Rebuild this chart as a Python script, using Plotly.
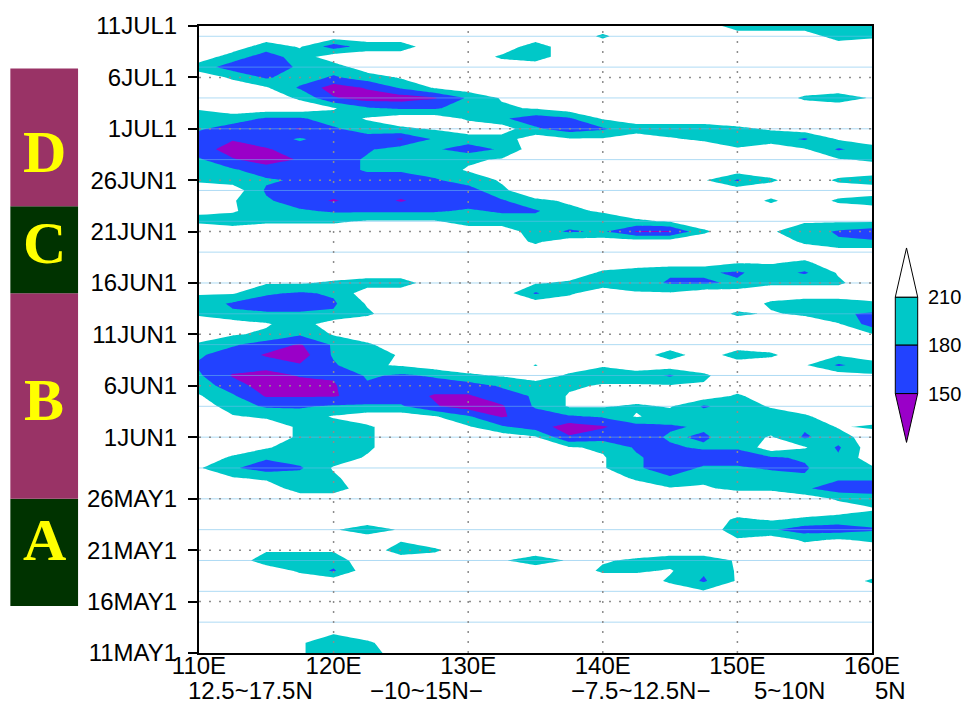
import plotly.graph_objects as go
import pandas as pd

# ---------------- data ----------------
lon = [110.0, 112.5, 115.0, 117.5, 120.0, 122.5, 125.0, 127.5, 130.0, 132.5,
       135.0, 137.5, 140.0, 142.5, 145.0, 147.5, 150.0, 152.5, 155.0, 157.5, 160.0]

first_day = "2001-05-11"
last_day = "2001-07-11"

# OLR class per grid point (one string per day, 11MAY -> 11JUL, 110E -> 160E)
# '0' clear (>210) ... '3' deep convection (<150)
olr_value = {'0': 228, 'w': 213, 'e': 208.5, 'a': 205, '1': 195, 'c': 184,
             'b': 176, '2': 165, 'q': 153, 'p': 147, '3': 135}

olr_rows = [
    "000w1100000" "0000000000",  # 11 May
    "000w1a00000" "0000000000",
    "0000w000000" "0000000000",
    "00000000000" "0000000000",
    "00000000000" "0000000000",
    "00000000000" "0000000000",  # 16 May
    "00000000000" "0000w00000",
    "00000000000" "000abw000a",
    "000ab000000" "0aawcw0000",
    "001110000w1" "wwa11w0000",
    "00www01a000" "0000000000",  # 21 May
    "000000w0000" "00000w0awa",
    "0000w1w0000" "000001c22b",
    "00000000000" "00000awa11",
    "00000000000" "000000000w",
    "00000000000" "00000000a1",  # 26 May
    "00011000000" "000wwaac22",
    "0wa1a000000" "00aca11ccc",
    "wc2bw000000" "0wc2ccbbaa",
    "0ac11w00000" "0wc222bcc0",
    "00w11a00000" "wabbcc0wb0",
    "000a1a0000w" "q22cb1wb10",  # 1 Jun
    "000a1a00wc2" "3p2bc11cwa",
    "0wa1w00wcp2" "bcw1111a00",
    "01bbcccq3pc" "wwawb1w000",
    "wcppp22pp2c" "w0000a0000",
    "1233pb222c1" "awwww00000",  # 6 Jun
    "cp3qqcbcaw0" "a11ba0000w",
    "b22qbaw000e" "0w00000wb1",
    "c2p3c1w0000" "000101a0w0",
    "ac2pca00000" "0000000000",
    "0wacw000000" "000000000w",  # 11 Jun
    "00w10000000" "00000000w2",
    "acccca00000" "00000awacb",
    "1b22bw00000" "000000a11a",
    "wwcbc00000b" "a0ww000000",
    "00wwa11000w" "a11bbcaaa0",  # 16 Jun
    "00000000000" "0a1ccb1bw0",
    "00000000000" "00000wwa00",
    "00000000000" "0000000000",
    "0000000000a" "0000000acc",
    "00000000001" "bcppa0w1b2",  # 21 Jun
    "a1aaawww111" "11aw000www",
    "ww1cbbbbcbb" "aw00000000",
    "0wc2p2p22ba" "w00000a0a1",
    "00b222222a0" "0000000000",
    "a1cb222b1w0" "0000wba0a1",  # 26 Jun
    "1c222cc1w00" "0000000000",
    "cq3q2c11aw0" "00000000wa",
    "23p22b1c2c0" "00000w0wb1",
    "2q2c22pc110" "ww0wa11bw0",
    "c22pb1aw00c" "2b111aw000",  # 1 Jul
    "11bb1w00ac2" "bw00000000",
    "w000wcbb1aw" "0000000000",
    "000aq33pcw0" "0000000a1w",
    "00wb3qcw000" "0000000000",
    "0ab1b1w0000" "0000000000",  # 6 Jul
    "122c1000000" "0000000000",
    "012100000a1" "0000000000",
    "001w2110001" "0000000000",
    "00000000000" "0a0000001a",
    "00000000000" "0000011111",  # 11 Jul
]

y_tick_dates = ["2001-05-11", "2001-05-16", "2001-05-21", "2001-05-26", "2001-06-01",
                "2001-06-06", "2001-06-11", "2001-06-16", "2001-06-21", "2001-06-26",
                "2001-07-01", "2001-07-06", "2001-07-11"]
y_tick_text = ["11MAY1", "16MAY1", "21MAY1", "26MAY1", "1JUN1", "6JUN1", "11JUN1",
               "16JUN1", "21JUN1", "26JUN1", "1JUL1", "6JUL1", "11JUL1"]

x_tick_vals = [110, 120, 130, 140, 150, 160]
x_tick_text = ["110E", "120E", "130E", "140E", "150E", "160E"]

lat_band_text = ["12.5~17.5N", "\u221210~15N\u2212", "\u22127.5~12.5N\u2212", "5~10N", "5N"]

seam_dates = ["2001-05-14", "2001-05-17", "2001-05-20", "2001-05-23", "2001-05-26",
              "2001-05-29", "2001-06-01", "2001-06-04", "2001-06-07", "2001-06-10",
              "2001-06-13", "2001-06-16", "2001-06-19", "2001-06-22", "2001-06-25",
              "2001-06-28", "2001-07-01", "2001-07-04", "2001-07-07", "2001-07-10"]

phase_names = ["A", "B", "C", "D"]
phase_start = ["2001-05-15 14:00", "2001-05-26 00:00", "2001-06-15 00:00", "2001-06-23 11:00"]
phase_end = ["2001-05-26 00:00", "2001-06-15 00:00", "2001-06-23 11:00", "2001-07-06 21:00"]
phase_letter_at = ["2001-05-22 00:00", "2001-06-04 14:00", "2001-06-19 21:00", "2001-06-28 17:00"]
phase_colors = ["#003300", "#993366", "#003300", "#993366"]

level_edges = [150, 180, 210]
level_colors = ["#9a00c8", "#2242ff", "#00c8c8", "#ffffff"]

# ---------------- figure ----------------
dates = pd.date_range(first_day, last_day, freq="D")
z = [[olr_value[ch] for ch in row] for row in olr_rows]

zmin, zmax = 120, 240
cs = []
for i, col in enumerate(level_colors):
    cs.append([i / 4, col])
    cs.append([(i + 1) / 4, col])

fig = go.Figure()
fig.add_trace(go.Contour(
    x=lon, y=dates, z=z,
    zmin=zmin, zmax=zmax, zauto=False,
    colorscale=cs, showscale=False,
    contours=dict(start=level_edges[0], end=level_edges[-1], size=30, coloring="fill"),
    line=dict(width=0, smoothing=0),
    hoverinfo="skip",
))

# light seams of the shading (as in the original rendering)
sx, sy = [], []
for d in seam_dates:
    sx += [lon[0], lon[-1], None]
    sy += [d, d, None]
fig.add_trace(go.Scatter(x=sx, y=sy, mode="lines", hoverinfo="skip", showlegend=False,
                         line=dict(color="rgba(110,190,235,0.55)", width=1)))

# dotted grid over the shading
gx, gy = [], []
for v in x_tick_vals[1:-1]:
    gx += [v, v, None]
    gy += [first_day, last_day, None]
for d in y_tick_dates[1:-1]:
    gx += [lon[0], lon[-1], None]
    gy += [d, d, None]
fig.add_trace(go.Scatter(x=gx, y=gy, mode="lines", hoverinfo="skip", showlegend=False,
                         line=dict(color="#8c8c8c", width=1.5, dash="2px,8px")))

font_main = "Liberation Sans, Arial, sans-serif"

fig.update_layout(
    width=963, height=712,
    margin=dict(l=199, r=91, t=24, b=59),
    paper_bgcolor="white", plot_bgcolor="white",
    showlegend=False,
    font=dict(family=font_main, size=24, color="black"),
    xaxis=dict(range=[lon[0], lon[-1]], tickvals=x_tick_vals, ticktext=x_tick_text,
               ticks="", showgrid=False, zeroline=False,
               showline=True, mirror=True, linecolor="black", linewidth=2,
               tickfont=dict(size=24), ticklabelstandoff=-10, layer="above traces"),
    yaxis=dict(type="date", range=[first_day, last_day], tickvals=y_tick_dates,
               ticktext=y_tick_text, ticks="outside", ticklen=9, tickwidth=2,
               tickcolor="black", showgrid=False, zeroline=False,
               showline=True, mirror=True, linecolor="black", linewidth=2,
               tickfont=dict(size=24), ticklabelstandoff=6, layer="above traces"),
)

# phase boxes on the left
for name, s, e, mid, colr in zip(phase_names, phase_start, phase_end, phase_letter_at, phase_colors):
    fig.add_shape(type="rect", xref="paper", yref="y", x0=-0.2803, x1=-0.1797,
                  y0=s, y1=e, fillcolor=colr, line=dict(width=0), layer="above")
    fig.add_annotation(xref="paper", yref="y", x=-0.2300, y=mid, text=name,
                       showarrow=False, xanchor="center", yanchor="middle",
                       font=dict(family="Liberation Serif, Times New Roman, serif",
                                 size=60, color="#ffff00", weight="bold"))

# colour key on the right
kx0, kx1, kxm = 1.0346, 1.0679, 1.0513
edge_y = [0.4138, 0.4913, 0.5676]
apex_lo, apex_hi = 0.3359, 0.6460
fig.add_shape(type="path", xref="paper", yref="paper",
              path=f"M {kx0},{edge_y[0]} L {kxm},{apex_lo} L {kx1},{edge_y[0]} Z",
              fillcolor=level_colors[0], line=dict(color="black", width=1))
fig.add_shape(type="rect", xref="paper", yref="paper", x0=kx0, x1=kx1,
              y0=edge_y[0], y1=edge_y[1], fillcolor=level_colors[1],
              line=dict(color="black", width=1))
fig.add_shape(type="rect", xref="paper", yref="paper", x0=kx0, x1=kx1,
              y0=edge_y[1], y1=edge_y[2], fillcolor=level_colors[2],
              line=dict(color="black", width=1))
fig.add_shape(type="path", xref="paper", yref="paper",
              path=f"M {kx0},{edge_y[2]} L {kxm},{apex_hi} L {kx1},{edge_y[2]} Z",
              fillcolor=level_colors[3], line=dict(color="black", width=1))
for lev, yy in zip(level_edges, edge_y):
    fig.add_annotation(xref="paper", yref="paper", x=1.0799, y=yy, text=str(lev),
                       showarrow=False, xanchor="left", yanchor="middle",
                       font=dict(size=20))

# second line of x labels: latitude bands
band_x = [0.0769, 0.3376, 0.6554, 0.8767, 1.0268]
for t, xx in zip(lat_band_text, band_x):
    fig.add_annotation(xref="paper", yref="paper", x=xx, y=-0.0604, text=t,
                       showarrow=False, xanchor="center", yanchor="middle",
                       font=dict(size=24))

fig.write_html("out.html", config={"displayModeBar": False})

# page without the default body margin, so the figure sits at the window corner
with open("out.html", "r", encoding="utf-8") as fh:
    page = fh.read()
page = page.replace("<head>", "<head><style>html,body{margin:0;padding:0;overflow:hidden;}</style>", 1)
with open("out.html", "w", encoding="utf-8") as fh:
    fh.write(page)
